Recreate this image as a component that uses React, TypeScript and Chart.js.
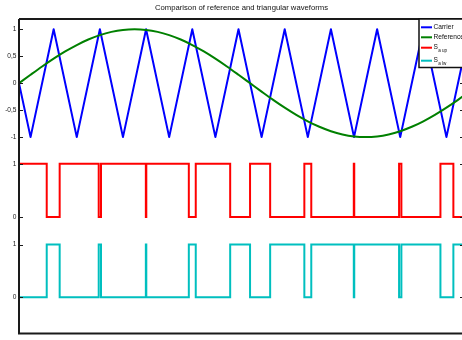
import React, { useEffect, useRef } from "react";
import { Chart, registerables } from "chart.js";

Chart.register(...registerables);

// ---- data (time in ms) ----
const carrierTime = [0, 0.5, 1.5, 2.5, 3.5, 4.5, 5.5, 6.5, 7.5, 8.5, 9.5, 10.5, 11.5, 12.5, 13.5, 14.5, 15.5, 16.5, 17.5, 18.5, 19.5, 20];
const carrierValue = [0, -1, 1, -1, 1, -1, 1, -1, 1, -1, 1, -1, 1, -1, 1, -1, 1, -1, 1, -1, 1, 0];

const referenceTime = [
  0, 0.5, 1, 1.5, 2, 2.5, 3, 3.5, 4, 4.5, 5, 5.5, 6, 6.5, 7, 7.5, 8, 8.5, 9, 9.5, 10,
  10.5, 11, 11.5, 12, 12.5, 13, 13.5, 14, 14.5, 15, 15.5, 16, 16.5, 17, 17.5, 18, 18.5, 19, 19.5, 20,
];
const referenceValue = [
  0, 0.156, 0.309, 0.454, 0.588, 0.707, 0.809, 0.891, 0.951, 0.988, 1, 0.988, 0.951, 0.891, 0.809, 0.707, 0.588, 0.454, 0.309, 0.156, 0,
  -0.156, -0.309, -0.454, -0.588, -0.707, -0.809, -0.891, -0.951, -0.988, -1, -0.988, -0.951, -0.891, -0.809, -0.707, -0.588, -0.454, -0.309, -0.156, 0,
];

const switchTime = [0, 0, 1.2, 1.76, 3.45, 3.55, 5.49, 5.51, 7.35, 7.65, 9.14, 10.0, 10.87, 12.35, 12.65, 14.49, 14.51, 16.45, 16.55, 18.24, 18.8, 20];
const sUpLevel = [0, 1, 0, 1, 0, 1, 0, 1, 0, 1, 0, 1, 0, 1, 0, 1, 0, 1, 0, 1, 0, 0];
const sLwLevel = [1, 0, 1, 0, 1, 0, 1, 0, 1, 0, 1, 0, 1, 0, 1, 0, 1, 0, 1, 0, 1, 1];

const seriesLabels = ["Carrier", "Reference", "S a up", "S a lw"];
const legendMain = ["Carrier", "Reference", "S", "S"];
const legendSub = ["", "", "a up", "a lw"];
const titleText = "Comparison of reference and triangular waveforms";

const COLORS = ["#0000ff", "#008000", "#ff0000", "#00bfbf"];
const FONT = "'Liberation Sans', Arial, Helvetica, sans-serif";

const toPoints = (xs: number[], ys: number[]) => xs.map((x, i) => ({ x, y: ys[i] }));

const fmt = (v: number | string) => String(v).replace(".", ",");

const framePlugin = {
  id: "frame",
  afterDatasetsDraw(chart: any) {
    const { ctx, chartArea: a } = chart;
    ctx.save();
    ctx.strokeStyle = "#1a1a1a";
    ctx.lineWidth = 2;
    ctx.beginPath();
    ctx.moveTo(a.left, a.top);
    ctx.lineTo(a.right, a.top);
    ctx.lineTo(a.right, a.bottom);
    ctx.lineTo(a.left, a.bottom);
    ctx.lineTo(a.left, a.top);
    ctx.stroke();
    ctx.lineWidth = 1;
    ctx.beginPath();
    for (const id of ["yTop", "yMid", "yBot"]) {
      const s = chart.scales[id];
      for (const t of s.ticks) {
        const y = Math.round(s.getPixelForValue(t.value)) + 0.5;
        ctx.moveTo(a.left, y);
        ctx.lineTo(a.left + 4, y);
        ctx.moveTo(a.right, y);
        ctx.lineTo(a.right - 4, y);
      }
    }
    ctx.stroke();
    ctx.restore();
  },
};

const legendPlugin = {
  id: "matlabLegend",
  afterDraw(chart: any) {
    const { ctx, chartArea: a } = chart;
    const left = a.right - 45;
    const top = a.top;
    const w = 54;
    const h = 48.5;
    const rows = [8.3, 18.3, 28.7, 41.7];
    ctx.save();
    ctx.fillStyle = "#ffffff";
    ctx.fillRect(left, top, w, h);
    ctx.strokeStyle = "#111";
    ctx.lineWidth = 1.5;
    ctx.strokeRect(left, top, w, h);
    chart.data.datasets.forEach((ds: any, i: number) => {
      const y = top + rows[i];
      ctx.strokeStyle = ds.borderColor;
      ctx.lineWidth = 2;
      ctx.beginPath();
      ctx.moveTo(left + 2, y);
      ctx.lineTo(left + 13, y);
      ctx.stroke();
      ctx.fillStyle = "#111";
      ctx.textBaseline = "middle";
      ctx.textAlign = "left";
      ctx.font = `6.6px ${FONT}`;
      const main = legendMain[i];
      const mx = left + 14.5;
      const my = legendSub[i] ? y - 0.7 : y;
      ctx.fillText(main, mx, my);
      if (legendSub[i]) {
        const mw = ctx.measureText(main).width;
        ctx.font = `4.6px ${FONT}`;
        ctx.fillText(legendSub[i], mx + mw + 0.3, y + 2.6);
      }
    });
    ctx.restore();
  },
};

export default function App() {
  const ref = useRef<HTMLCanvasElement | null>(null);

  useEffect(() => {
    document.documentElement.style.overflow = "hidden";
    document.body.style.overflow = "hidden";
    const canvas = ref.current;
    if (!canvas) return;

    const yCommon = (id: string) => ({
      type: "linear" as const,
      position: "left" as const,
      stack: "panels",
      offset: false,
      grid: { display: false, drawTicks: false },
      border: { display: false },
      afterFit: (s: any) => {
        s.width = 19;
      },
    });

    const tickStyle = {
      font: { family: FONT, size: 6.6 },
      color: "#1a1a1a",
      padding: 2.5,
      includeBounds: false,
      callback: (v: number | string) => fmt(v),
    };

    const chart = new Chart(canvas, {
      type: "line",
      data: {
        datasets: [
          {
            label: seriesLabels[0],
            data: toPoints(carrierTime, carrierValue),
            borderColor: COLORS[0],
            borderWidth: 2,
            pointRadius: 0,
            borderJoinStyle: "round",
            yAxisID: "yTop",
            order: 4,
          },
          {
            label: seriesLabels[1],
            data: toPoints(referenceTime, referenceValue),
            borderColor: COLORS[1],
            borderWidth: 2,
            pointRadius: 0,
            cubicInterpolationMode: "monotone",
            yAxisID: "yTop",
            order: 3,
          },
          {
            label: seriesLabels[2],
            data: toPoints(switchTime, sUpLevel),
            borderColor: COLORS[2],
            borderWidth: 2,
            pointRadius: 0,
            stepped: "before",
            yAxisID: "yMid",
            order: 2,
          },
          {
            label: seriesLabels[3],
            data: toPoints(switchTime, sLwLevel),
            borderColor: COLORS[3],
            borderWidth: 2,
            pointRadius: 0,
            stepped: "before",
            yAxisID: "yBot",
            order: 1,
          },
        ],
      },
      options: {
        responsive: false,
        animation: false,
        events: [],
        layout: { padding: { left: 0, right: 19, top: 0, bottom: 6 } },
        scales: {
          x: { type: "linear", min: 0, max: 19.26, display: false },
          yTop: {
            ...yCommon("yTop"),
            weight: 3,
            stackWeight: 131.8,
            min: -1.25,
            max: 1.19,
            ticks: { ...tickStyle, stepSize: 0.5 },
          },
          yMid: {
            ...yCommon("yMid"),
            weight: 2,
            stackWeight: 79.9,
            min: -0.25,
            max: 1.25,
            ticks: { ...tickStyle, stepSize: 1 },
          },
          yBot: {
            ...yCommon("yBot"),
            weight: 1,
            stackWeight: 103.4,
            min: -0.69,
            max: 1.27,
            ticks: { ...tickStyle, stepSize: 1 },
          },
        } as any,
        plugins: {
          legend: { display: false },
          tooltip: { enabled: false },
          title: {
            display: true,
            text: titleText,
            fullSize: false,
            color: "#111",
            font: { family: FONT, size: 7.7, weight: "normal" as any },
            padding: { top: 3.6, bottom: 6.16 },
          },
        },
      },
      plugins: [framePlugin, legendPlugin],
    });
    return () => chart.destroy();
  }, []);

  return (
    <div style={{ position: "fixed", left: 0, top: 0, width: 483, height: 340, background: "#fff" }}>
      <canvas ref={ref} width={483} height={340} style={{ width: 483, height: 340, display: "block" }} />
    </div>
  );
}
